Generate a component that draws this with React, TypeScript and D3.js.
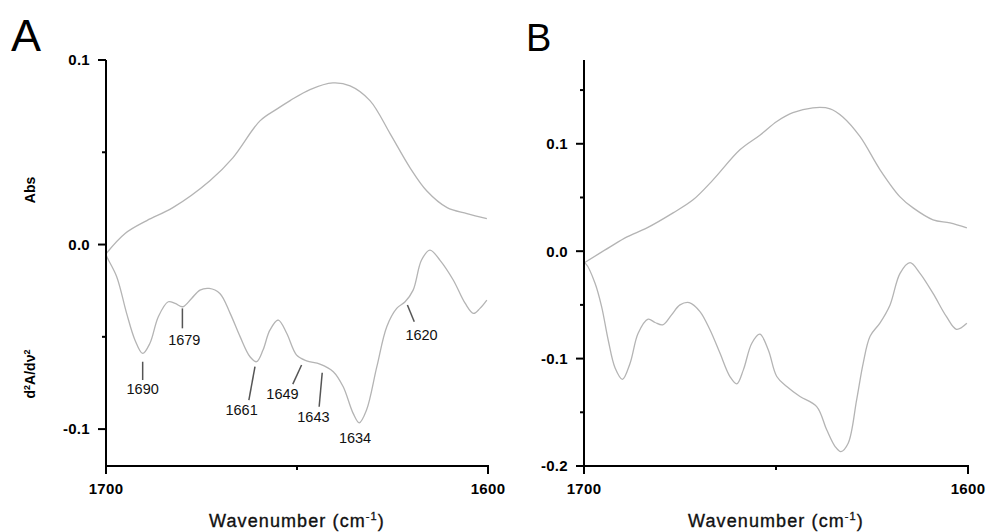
import React from "react";
import * as d3 from "d3";

// ---------- Panel A data ----------
const absWnA = [1700, 1695, 1689.3, 1682.5, 1672.8, 1666.8, 1659.7, 1655.2, 1651.8, 1646.6, 1640.6, 1636.1, 1630.9, 1625.6, 1620.4, 1616, 1610.7, 1605.5, 1600.3];
const absA = [-0.005, 0.006, 0.013, 0.02, 0.0346, 0.047, 0.067, 0.0735, 0.078, 0.084, 0.0876, 0.086, 0.078, 0.06, 0.0416, 0.029, 0.02, 0.0168, 0.014];

const derWnA = [1700, 1699.8, 1697.2, 1694.6, 1692.4, 1690.4, 1688.5, 1686.3, 1683.7, 1681.9, 1679.9, 1677.6, 1675.4, 1673.0, 1670.2, 1667.5, 1664.9, 1662.3, 1660.6, 1658.9, 1657.1, 1654.9, 1652.7, 1650.1, 1647.5, 1644.0, 1640.5, 1637.9, 1635.3, 1633.7, 1631.8, 1629.1, 1626.5, 1623.9, 1621.7, 1619.6, 1617.4, 1615.2, 1612.6, 1609.1, 1606.0, 1603.8, 1602.1, 1600.3];
const derA = [-0.005, -0.0065, -0.0174, -0.0373, -0.0518, -0.059, -0.0535, -0.0391, -0.031, -0.0319, -0.0337, -0.0292, -0.0247, -0.0238, -0.0265, -0.0373, -0.0499, -0.0608, -0.0635, -0.0572, -0.0464, -0.0409, -0.0481, -0.0599, -0.063, -0.0648, -0.0689, -0.0771, -0.0915, -0.0966, -0.0897, -0.0662, -0.0445, -0.0346, -0.031, -0.0247, -0.0084, -0.003, -0.0084, -0.0192, -0.0318, -0.0373, -0.0346, -0.0301];

// annotations: label, line from (wn1,v1) to (wn2,v2), label at (lw,lv)
const annLabels = ["1690", "1679", "1661", "1649", "1643", "1634", "1620"];
const annWn1 = [1690.4, 1680.0, 1661.0, 1648.8, 1643.4, NaN, 1621.1];
const annV1 = [-0.0635, -0.0346, -0.0662, -0.0653, -0.0695, NaN, -0.0328];
const annWn2 = [1690.4, 1680.0, 1662.6, 1651.1, 1644.2, NaN, 1619.3];
const annV2 = [-0.0734, -0.0454, -0.0843, -0.0756, -0.0879, NaN, -0.0418];
const annLabelWn = [1690.4, 1679.5, 1664.5, 1653.8, 1645.7, 1634.8, 1617.4];
const annLabelV = [-0.0779, -0.0518, -0.0897, -0.0807, -0.0933, -0.1046, -0.0491];

// ---------- Panel B data ----------
const absWnB = [1700, 1693.2, 1688.8, 1683.6, 1676.8, 1671.6, 1666.4, 1659.4, 1654.2, 1649.7, 1645.6, 1640.4, 1635.9, 1632.6, 1628.1, 1622.9, 1617.7, 1614.3, 1609.1, 1604.7, 1600.3];
const absB = [-0.011, 0.004, 0.0133, 0.0217, 0.0357, 0.0478, 0.0664, 0.0944, 0.108, 0.121, 0.129, 0.1335, 0.1326, 0.125, 0.1066, 0.0758, 0.0506, 0.0403, 0.0292, 0.0264, 0.0217];

const derWnB = [1700, 1699.5, 1697.1, 1695.4, 1693.7, 1691.9, 1690.0, 1688.0, 1685.9, 1683.3, 1681.5, 1679.5, 1677.2, 1675.0, 1672.6, 1669.8, 1667.2, 1664.6, 1662.0, 1660.2, 1658.5, 1656.3, 1654.2, 1652.0, 1649.8, 1647.2, 1643.75, 1639.4, 1636.8, 1634.6, 1633.1, 1631.2, 1629.0, 1627.3, 1625.5, 1622.9, 1620.3, 1617.7, 1615.1, 1612.5, 1609.1, 1605.6, 1603.0, 1600.3];
const derB = [-0.011, -0.0118, -0.03, -0.0518, -0.0827, -0.1088, -0.1193, -0.1043, -0.0764, -0.0633, -0.0664, -0.0686, -0.0593, -0.05, -0.0479, -0.0562, -0.0732, -0.0949, -0.1167, -0.1235, -0.1105, -0.0857, -0.0773, -0.092, -0.1167, -0.126, -0.1353, -0.1447, -0.1663, -0.1819, -0.1866, -0.1788, -0.1384, -0.1044, -0.0792, -0.0667, -0.05, -0.0206, -0.0107, -0.0206, -0.0393, -0.061, -0.0727, -0.0671];

// ---------- ticks ----------
const xMajorTicks = [1700, 1600];
const xMinorTicks = [1650];
const yMajorA = [0.1, 0.0, -0.1];
const yMinorA = [0.05, -0.05];
const yMajorB = [0.1, 0.0, -0.1, -0.2];
const yMinorB = [0.15, 0.05, -0.05, -0.15];

const FONT = "'Liberation Sans', Arial, Helvetica, sans-serif";
const CURVE = "#b4b4b4";

type PanelProps = {
  left: number;
  right: number;
  yDomain: [number, number];
  yMajor: number[];
  yMinor: number[];
  letter: string;
  letterSize: number;
  letterX: number;
  curves: { wn: number[]; v: number[] }[];
  showAnn?: boolean;
};

const top = 60;
const bottom = 466;

function fmtTick(t: number) {
  const s = Math.abs(t).toFixed(1);
  return t < -1e-9 ? "-" + s : s;
}

function Panel(p: PanelProps) {
  const x = d3.scaleLinear().domain([1700, 1600]).range([p.left, p.right]);
  const y = d3.scaleLinear().domain(p.yDomain).range([bottom, top]);
  const line = d3
    .line<[number, number]>()
    .x((d) => x(d[0]))
    .y((d) => y(d[1]))
    .curve(d3.curveCatmullRom.alpha(0.5));
  return (
    <g>
      <text x={p.letterX} y={51} fontFamily={FONT} fontSize={p.letterSize} fill="#000">
        {p.letter}
      </text>
      {p.curves.map((c, i) => (
        <path
          key={i}
          d={line(c.wn.map((w, j) => [w, c.v[j]] as [number, number])) || ""}
          fill="none"
          stroke={CURVE}
          strokeWidth={1.3}
        />
      ))}
      {/* axes */}
      <line x1={p.left} x2={p.left} y1={top} y2={bottom + 7} stroke="#000" strokeWidth={2} />
      <line x1={p.left - 1} x2={p.right + 1} y1={bottom} y2={bottom} stroke="#000" strokeWidth={2} />
      {p.yMajor.map((t) => (
        <g key={"ym" + t}>
          <line x1={p.left - 8} x2={p.left} y1={y(t)} y2={y(t)} stroke="#000" strokeWidth={2} />
          <text
            x={p.left - 16}
            y={y(t)}
            dy="0.36em"
            textAnchor="end"
            fontFamily={FONT}
            fontWeight="bold"
            fontSize={15}
            letterSpacing={0.3}
          >
            {fmtTick(t)}
          </text>
        </g>
      ))}
      {p.yMinor.map((t) => (
        <line key={"yn" + t} x1={p.left - 4} x2={p.left} y1={y(t)} y2={y(t)} stroke="#000" strokeWidth={2} />
      ))}
      {xMajorTicks.map((t) => (
        <g key={"xm" + t}>
          <line x1={x(t)} x2={x(t)} y1={bottom} y2={bottom + 8} stroke="#000" strokeWidth={2} />
          <text x={x(t)} y={494} textAnchor="middle" fontFamily={FONT} fontWeight="bold" fontSize={15} letterSpacing={0.3}>
            {t}
          </text>
        </g>
      ))}
      {xMinorTicks.map((t) => (
        <line key={"xn" + t} x1={x(t)} x2={x(t)} y1={bottom} y2={bottom + 4} stroke="#000" strokeWidth={2} />
      ))}
      <text
        x={(p.left + p.right) / 2}
        y={527}
        textAnchor="middle"
        fontFamily={FONT}
        fontSize={18}
        letterSpacing={1.1}
        fill="#111"
        stroke="#111"
        strokeWidth={0.35}
      >
        Wavenumber (cm
        <tspan fontSize={11} dy={-7}>-1</tspan>
        <tspan dy={7}>)</tspan>
      </text>
      {p.showAnn &&
        annLabels.map((lab, i) => (
          <g key={"a" + lab}>
            {!isNaN(annWn1[i]) && (
              <line
                x1={x(annWn1[i])}
                y1={y(annV1[i])}
                x2={x(annWn2[i])}
                y2={y(annV2[i])}
                stroke="#555"
                strokeWidth={1.5}
              />
            )}
            <text
              x={x(annLabelWn[i])}
              y={y(annLabelV[i])}
              dy="0.36em"
              textAnchor="middle"
              fontFamily={FONT}
              fontSize={14.5}
              fill="#111"
            >
              {lab}
            </text>
          </g>
        ))}
    </g>
  );
}

export default function App() {
  return (
    <svg
      width={986}
      height={532}
      viewBox="0 0 986 532"
      style={{ position: "absolute", left: 0, top: 0, background: "#fff" }}
    >
      <rect width={986} height={532} fill="#fff" />
      <Panel
        left={106}
        right={488}
        yDomain={[-0.12, 0.1]}
        yMajor={yMajorA}
        yMinor={yMinorA}
        letter="A"
        letterSize={45}
        letterX={11}
        curves={[
          { wn: absWnA, v: absA },
          { wn: derWnA, v: derA },
        ]}
        showAnn
      />
      <Panel
        left={584}
        right={968}
        yDomain={[-0.2, 0.178]}
        yMajor={yMajorB}
        yMinor={yMinorB}
        letter="B"
        letterSize={38}
        letterX={526}
        curves={[
          { wn: absWnB, v: absB },
          { wn: derWnB, v: derB },
        ]}
      />
      <text
        transform="translate(35,190) rotate(-90)"
        textAnchor="middle"
        fontFamily={FONT}
        fontWeight="bold"
        fontSize={14}
      >
        Abs
      </text>
      <text
        transform="translate(35,374) rotate(-90)"
        textAnchor="middle"
        fontFamily={FONT}
        fontWeight="bold"
        fontSize={14}
      >
        d<tspan fontSize={9} dy={-5}>2</tspan>
        <tspan dy={5}>A/dν</tspan>
        <tspan fontSize={9} dy={-5}>2</tspan>
      </text>
    </svg>
  );
}
